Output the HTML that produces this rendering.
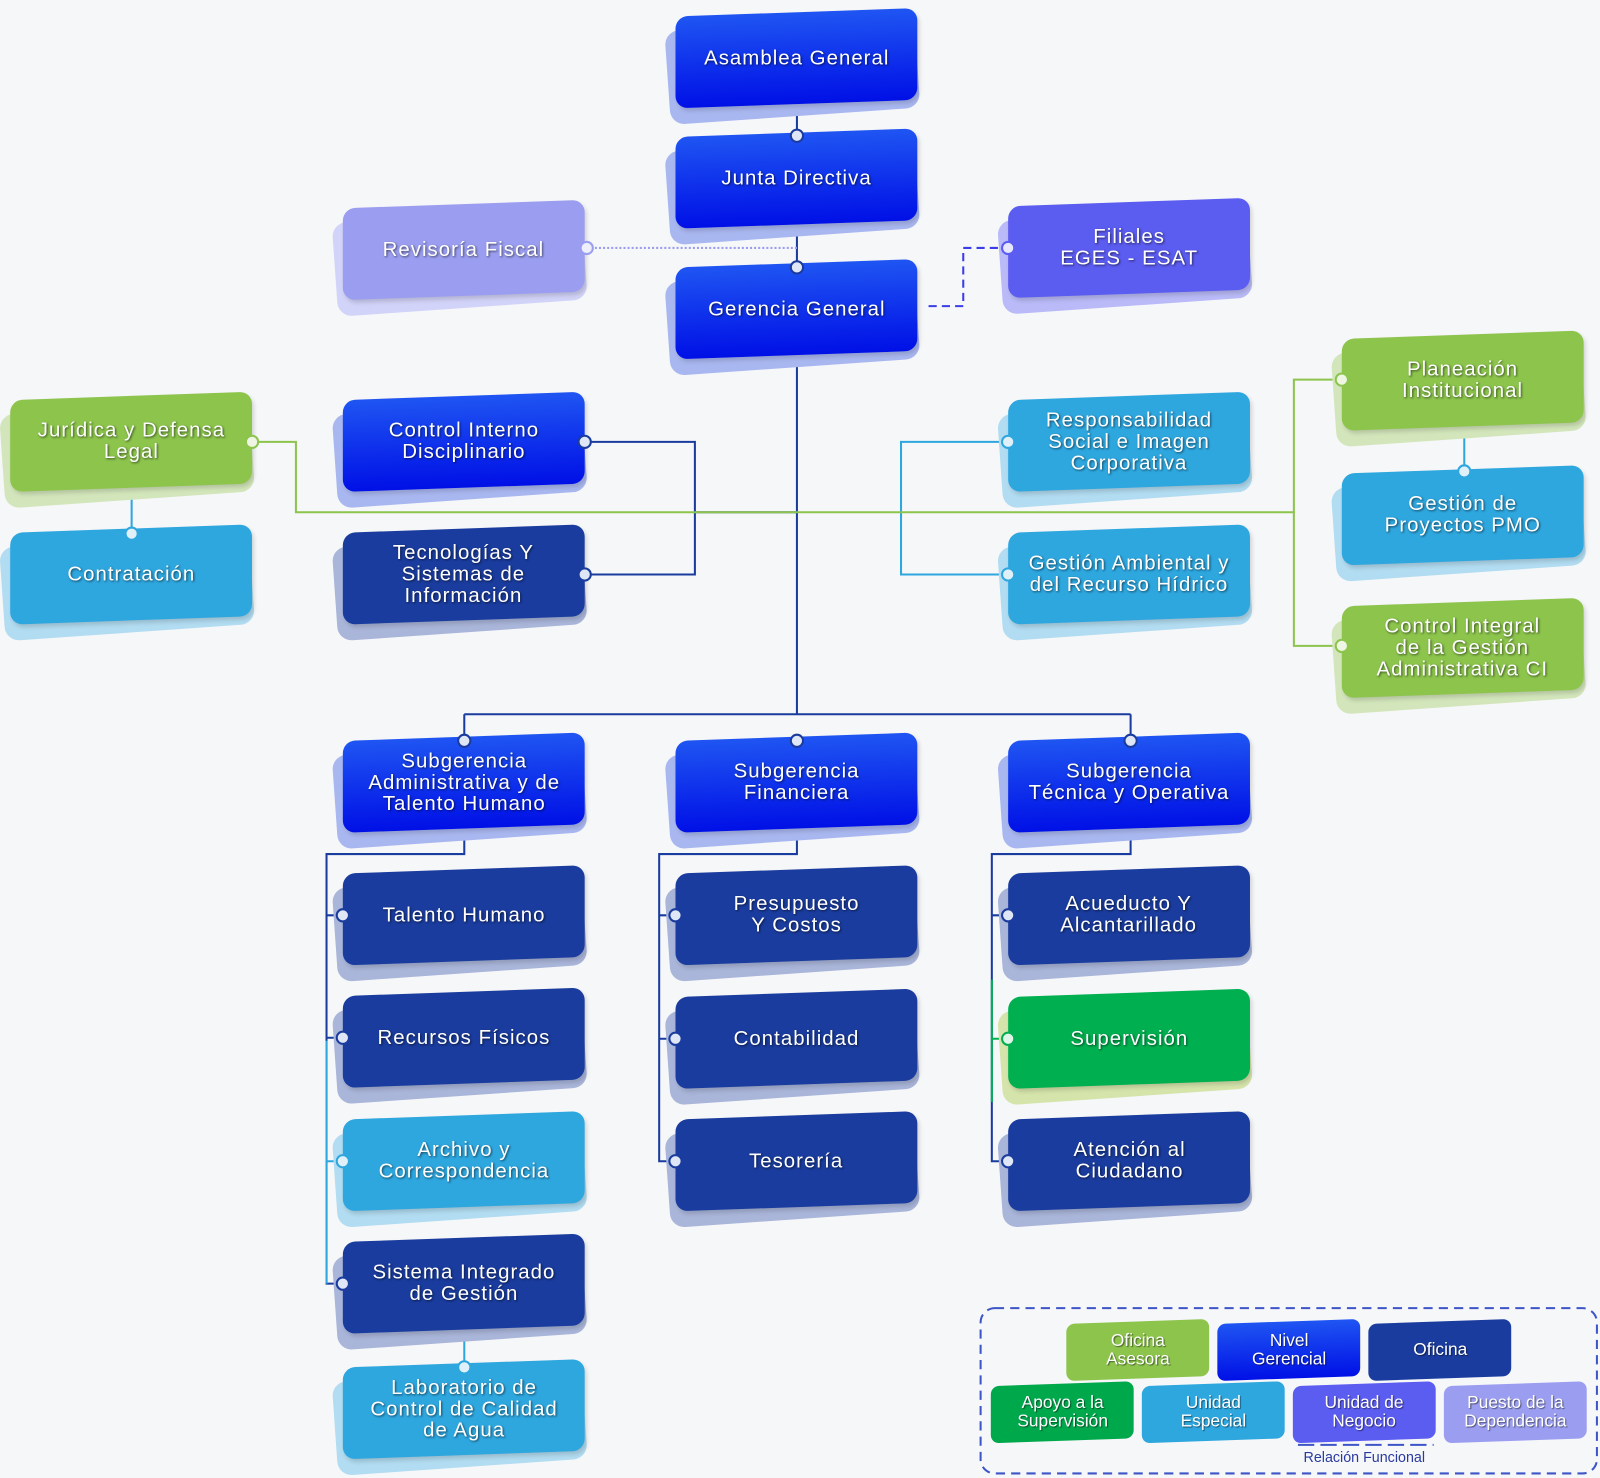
<!DOCTYPE html>
<html><head><meta charset="utf-8"><style>
html,body{margin:0;padding:0;background:#f6f7f9;}
body{width:1600px;height:1478px;overflow:hidden;position:relative;font-family:"Liberation Sans","DejaVu Sans",sans-serif;}
#w{position:absolute;left:0;top:0;width:1568px;height:1448px;transform:scale(1.0204);transform-origin:0 0;}
.n{position:absolute;width:237px;height:90px;}
.n .b{position:absolute;left:-8px;top:10px;width:245px;height:92px;border-radius:14px;transform:rotate(-4deg);}
.n .f{position:absolute;left:0;top:0;width:237px;height:90px;border-radius:12px;transform:skewY(-2deg);display:flex;align-items:center;justify-content:center;text-align:center;color:#fff;font-size:20px;line-height:21px;letter-spacing:1px;text-shadow:1px 1px 2px rgba(0,0,0,.6);box-shadow:2px 3px 4px rgba(0,0,0,.15);}
.f span,.lg span{display:block;transform:skewY(2deg);}
.bb .f{background:linear-gradient(#1f55f2,#0010e6);} .bb .b{background:#a9b7f0;}
.nv .f{background:#1a3c9e;} .nv .b{background:#a9b5d9;}
.lb .f{background:#2ea7df;} .lb .b{background:#b2dcf1;}
.gr .f{background:#8cc44c;} .gr .b{background:#d3e6bb;}
.lv .f{background:#9b9ef0;} .lv .b{background:#d2d3f8;}
.pu .f{background:#5b5cf0;} .pu .b{background:#b9baf7;}
.sg .f{background:#00b050;} .sg .b{background:#d5e4ab;}
svg{position:absolute;left:0;top:0;}
.lg{position:absolute;width:140px;height:56px;border-radius:8px;transform:skewY(-2deg);color:#fff;font-size:17px;line-height:18px;display:flex;align-items:center;justify-content:center;text-align:center;text-shadow:1px 1px 1px rgba(0,0,0,.5);}
</style></head><body><div id="w">
<svg width="1568" height="1448" fill="none">
<g stroke="#1a3c9e" stroke-width="2">
<line x1="781" y1="100" x2="781" y2="700"/>
<line x1="455" y1="700" x2="1108" y2="700"/>
<line x1="455" y1="700" x2="455" y2="725"/><line x1="1108" y1="700" x2="1108" y2="725"/>
<polyline points="573,433 681,433 681,563 573,563"/>
<line x1="681" y1="502" x2="781" y2="502"/>
<polyline points="455,812 455,837 320,837 320,1258 336,1258"/>
<line x1="320" y1="897" x2="336" y2="897"/><line x1="320" y1="1017" x2="336" y2="1017"/>
<polyline points="781,812 781,837 646,837 646,1138 662,1138"/>
<line x1="646" y1="897" x2="662" y2="897"/><line x1="646" y1="1018" x2="662" y2="1018"/>
<polyline points="1108,812 1108,837 972,837 972,1138 988,1138"/>
<line x1="972" y1="897" x2="988" y2="897"/>
</g>
<g stroke="#2ea7df" stroke-width="2">
<polyline points="988,433 883,433 883,563 988,563"/>
<line x1="129" y1="478" x2="129" y2="523"/>
<line x1="320" y1="1138" x2="336" y2="1138"/><line x1="320" y1="1020" x2="320" y2="1258"/>
<line x1="1435" y1="418" x2="1435" y2="462"/>
<line x1="455" y1="1302" x2="455" y2="1340"/>
</g>
<g stroke="#8cc44c" stroke-width="2">
<polyline points="247,433 290,433 290,502 1268,502"/>
<polyline points="1315,372 1268,372 1268,633 1315,633"/>
</g>
<line x1="972" y1="960" x2="972" y2="1080" stroke="#00b050" stroke-width="2"/>
<line x1="972" y1="1018" x2="988" y2="1018" stroke="#00b050" stroke-width="2"/>
<line x1="575" y1="243" x2="781" y2="243" stroke="#9b9ef0" stroke-width="2" stroke-dasharray="2,2"/>
<polyline points="910,300 944,300 944,243 988,243" stroke="#3b3ee8" stroke-width="2" stroke-dasharray="8,5"/>
<rect x="961" y="1282" width="604" height="162" rx="14" stroke="#3e55c8" stroke-width="2" stroke-dasharray="9,6"/>
<line x1="1272" y1="1416" x2="1405" y2="1416" stroke="#3e55c8" stroke-width="2" stroke-dasharray="16,6"/>
</svg>

<div class="n bb" style="left:662px;top:12px"><div class="b"></div><div class="f"><span>Asamblea General</span></div></div>
<div class="n bb" style="left:662px;top:130px"><div class="b"></div><div class="f"><span>Junta Directiva</span></div></div>
<div class="n bb" style="left:662px;top:258px"><div class="b"></div><div class="f"><span>Gerencia General</span></div></div>
<div class="n lv" style="left:336px;top:200px"><div class="b"></div><div class="f"><span>Revisoría Fiscal</span></div></div>
<div class="n pu" style="left:988px;top:198px"><div class="b"></div><div class="f"><span>Filiales<br>EGES - ESAT</span></div></div>
<div class="n gr" style="left:10px;top:388px"><div class="b"></div><div class="f"><span>Jurídica y Defensa<br>Legal</span></div></div>
<div class="n lb" style="left:10px;top:518px"><div class="b"></div><div class="f"><span>Contratación</span></div></div>
<div class="n bb" style="left:336px;top:388px"><div class="b"></div><div class="f"><span>Control Interno<br>Disciplinario</span></div></div>
<div class="n nv" style="left:336px;top:518px"><div class="b"></div><div class="f"><span>Tecnologías Y<br>Sistemas de<br>Información</span></div></div>
<div class="n lb" style="left:988px;top:388px"><div class="b"></div><div class="f"><span>Responsabilidad<br>Social e Imagen<br>Corporativa</span></div></div>
<div class="n lb" style="left:988px;top:518px"><div class="b"></div><div class="f"><span>Gestión Ambiental y<br>del Recurso Hídrico</span></div></div>
<div class="n gr" style="left:1315px;top:328px"><div class="b"></div><div class="f"><span>Planeación<br>Institucional</span></div></div>
<div class="n lb" style="left:1315px;top:460px"><div class="b"></div><div class="f"><span>Gestión de<br>Proyectos PMO</span></div></div>
<div class="n gr" style="left:1315px;top:590px"><div class="b"></div><div class="f"><span>Control Integral<br>de la Gestión<br>Administrativa CI</span></div></div>
<div class="n bb" style="left:336px;top:722px"><div class="b"></div><div class="f"><span>Subgerencia<br>Administrativa y de<br>Talento Humano</span></div></div>
<div class="n bb" style="left:662px;top:722px"><div class="b"></div><div class="f"><span>Subgerencia<br>Financiera</span></div></div>
<div class="n bb" style="left:988px;top:722px"><div class="b"></div><div class="f"><span>Subgerencia<br>Técnica y Operativa</span></div></div>
<div class="n nv" style="left:336px;top:852px"><div class="b"></div><div class="f"><span>Talento Humano</span></div></div>
<div class="n nv" style="left:336px;top:972px"><div class="b"></div><div class="f"><span>Recursos Físicos</span></div></div>
<div class="n lb" style="left:336px;top:1093px"><div class="b"></div><div class="f"><span>Archivo y<br>Correspondencia</span></div></div>
<div class="n nv" style="left:336px;top:1213px"><div class="b"></div><div class="f"><span>Sistema Integrado<br>de Gestión</span></div></div>
<div class="n lb" style="left:336px;top:1336px"><div class="b"></div><div class="f"><span>Laboratorio de<br>Control de Calidad<br>de Agua</span></div></div>
<div class="n nv" style="left:662px;top:852px"><div class="b"></div><div class="f"><span>Presupuesto<br>Y Costos</span></div></div>
<div class="n nv" style="left:662px;top:973px"><div class="b"></div><div class="f"><span>Contabilidad</span></div></div>
<div class="n nv" style="left:662px;top:1093px"><div class="b"></div><div class="f"><span>Tesorería</span></div></div>
<div class="n nv" style="left:988px;top:852px"><div class="b"></div><div class="f"><span>Acueducto Y<br>Alcantarillado</span></div></div>
<div class="n sg" style="left:988px;top:973px"><div class="b"></div><div class="f"><span>Supervisión</span></div></div>
<div class="n nv" style="left:988px;top:1093px"><div class="b"></div><div class="f"><span>Atención al<br>Ciudadano</span></div></div>

<svg width="1568" height="1448">
<g fill="#dfe6f5" stroke="#1a3c9e" stroke-width="2">
<circle cx="781" cy="133" r="6"/><circle cx="781" cy="262" r="6"/>
<circle cx="573" cy="433" r="6"/><circle cx="573" cy="563" r="6"/>
<circle cx="455" cy="726" r="6"/><circle cx="781" cy="726" r="6"/><circle cx="1108" cy="726" r="6"/>
<circle cx="336" cy="897" r="6"/><circle cx="336" cy="1017" r="6"/><circle cx="336" cy="1258" r="6"/>
<circle cx="662" cy="897" r="6"/><circle cx="662" cy="1018" r="6"/><circle cx="662" cy="1138" r="6"/>
<circle cx="988" cy="897" r="6"/><circle cx="988" cy="1138" r="6"/>
</g>
<g fill="#dff0f8" stroke="#2ea7df" stroke-width="2">
<circle cx="988" cy="433" r="6"/><circle cx="988" cy="563" r="6"/><circle cx="129" cy="523" r="6"/>
<circle cx="1435" cy="462" r="6"/><circle cx="336" cy="1138" r="6"/><circle cx="455" cy="1340" r="6"/>
</g>
<g fill="#eef5e3" stroke="#8cc44c" stroke-width="2">
<circle cx="247" cy="433" r="6"/><circle cx="1315" cy="372" r="6"/><circle cx="1315" cy="633" r="6"/>
</g>
<circle cx="988" cy="1018" r="6" fill="#e0f5e8" stroke="#00b050" stroke-width="2"/>
<circle cx="575" cy="243" r="6" fill="#eeeefc" stroke="#9b9ef0" stroke-width="2"/>
<circle cx="988" cy="243" r="6" fill="#e6e6fc" stroke="#5b5cf0" stroke-width="2"/>
</svg>

<div class="lg" style="left:1045px;top:1295px;background:#8cc44c"><span>Oficina<br>Asesora</span></div>
<div class="lg" style="left:1193px;top:1295px;background:linear-gradient(#1f55f2,#0010e6)"><span>Nivel<br>Gerencial</span></div>
<div class="lg" style="left:1341px;top:1295px;background:#1a3c9e"><span>Oficina</span></div>
<div class="lg" style="left:971px;top:1356px;background:#00a84c"><span>Apoyo a la<br>Supervisión</span></div>
<div class="lg" style="left:1119px;top:1356px;background:#2ea7df"><span>Unidad<br>Especial</span></div>
<div class="lg" style="left:1267px;top:1356px;background:#5b5cf0"><span>Unidad de<br>Negocio</span></div>
<div class="lg" style="left:1415px;top:1356px;background:#9b9ef0"><span>Puesto de la<br>Dependencia</span></div>
<div style="position:absolute;left:1262px;top:1420px;width:150px;text-align:center;font-size:14px;color:#2a3aa0;">Relación Funcional</div>
</div></body></html>
